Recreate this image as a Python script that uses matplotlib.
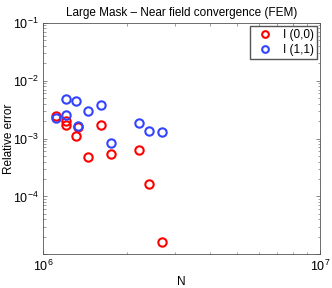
import matplotlib

matplotlib.use("Agg")

import matplotlib.pyplot as plt  # noqa: E402
import numpy as np  # noqa: E402
from matplotlib.ticker import FuncFormatter  # noqa: E402

# N values (shared by both series) and relative errors
n_vals = [1.111e6, 1.208e6, 1.205e6, 1.31e6, 1.336e6, 1.45e6, 1.62e6, 1.762e6, 2.22e6, 2.416e6, 2.68e6]
err_00 = [2.49e-3, 1.99e-3, 1.69e-3, 1.10e-3, 1.59e-3, 4.78e-4, 1.72e-3, 5.37e-4, 6.22e-4, 1.62e-4, 1.63e-5]
err_11 = [2.26e-3, 2.55e-3, 4.82e-3, 4.50e-3, 1.67e-3, 2.99e-3, 3.79e-3, 8.3e-4, 1.86e-3, 1.34e-3, 1.32e-3]

plt.rcParams.update({
    "font.family": ["Liberation Sans", "DejaVu Sans"],
    "mathtext.fontset": "custom",
    "mathtext.rm": "Liberation Sans",
    "mathtext.it": "Liberation Sans:italic",
    "font.size": 8.5,
    "xtick.direction": "in",
    "ytick.direction": "in",
    "xtick.top": True,
    "ytick.right": True,
    "axes.linewidth": 0.6,
})

fig = plt.figure(figsize=(3.32, 2.88), dpi=100)
ax = fig.add_axes([0.1304, 0.117, 0.8336, 0.804])

mk = dict(linestyle="none", marker="o", markersize=6, markeredgewidth=1.5, markerfacecolor="none")
ax.plot(n_vals, err_00, markeredgecolor="#ff0000", label="I (0,0)", **mk)
ax.plot(n_vals, err_11, markeredgecolor="#3344ff", label="I (1,1)", **mk)

ax.set_xscale("log")
ax.set_yscale("log")
ax.set_xlim(1e6, 1e7)
ax.set_ylim(1e-5, 1e-1)


def _decade(v, pos):
    e = int(round(np.log10(v)))
    if e == -5:
        return ""  # bottom decade is unlabelled in the original
    return rf"$\mathrm{{10}}^{{{e}}}$"


ax.yaxis.set_major_formatter(FuncFormatter(_decade))
ax.xaxis.set_major_formatter(FuncFormatter(lambda v, p: rf"$\mathrm{{10}}^{{{int(round(np.log10(v)))}}}$"))
ax.tick_params(which="major", length=3, width=0.5, colors="#555555", labelcolor="black", labelsize=9)
ax.tick_params(which="minor", length=1.8, width=0.4, colors="#555555")
for s in ax.spines.values():
    s.set_color("#555555")

ax.set_title("Large Mask \u2013 Near field convergence (FEM)", fontsize=8.5, pad=5)
ax.set_xlabel("N", va="center")
ax.xaxis.set_label_coords(0.5, -0.118)
ax.set_ylabel("Relative error", va="center")
ax.yaxis.set_label_coords(-0.125, 0.5)

leg = ax.legend(loc="upper right", fancybox=False, framealpha=1, edgecolor="#555555",
                borderaxespad=0.3, handletextpad=0.5, borderpad=0.25, labelspacing=0.25,
                handlelength=2.0, markerscale=0.8)
leg.get_frame().set_linewidth(1.0)

fig.savefig("out.png", dpi=100)
